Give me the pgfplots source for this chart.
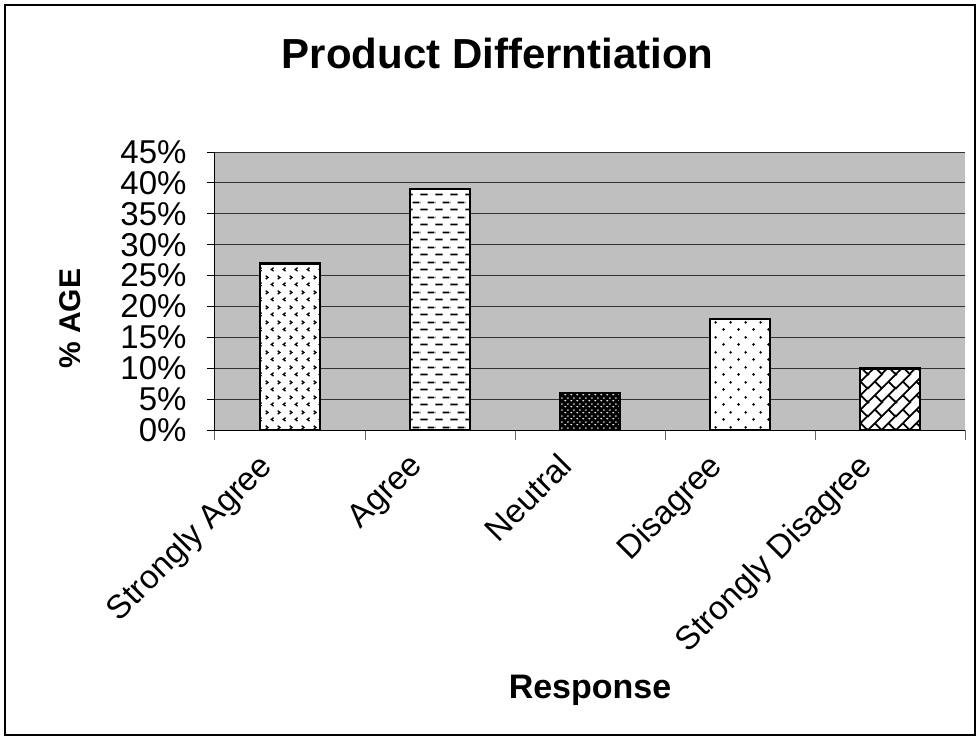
\documentclass[border=0pt]{standalone}
\usepackage{fontspec}
\setmainfont{Liberation Sans}
\usepackage{pgfplots}
\pgfplotsset{compat=1.18}
\usetikzlibrary{patterns}

% chevrons
\pgfdeclarepatternformonly{chevrons}{\pgfqpoint{0pt}{0pt}}{\pgfqpoint{12pt}{15pt}}{\pgfqpoint{12pt}{15pt}}{%
  \pgfsetlinewidth{1.4pt}
  \pgfpathmoveto{\pgfqpoint{1.8pt}{13pt}}\pgfpathlineto{\pgfqpoint{4.2pt}{11.2pt}}\pgfpathlineto{\pgfqpoint{1.8pt}{9.4pt}}
  \pgfpathmoveto{\pgfqpoint{10.2pt}{5.6pt}}\pgfpathlineto{\pgfqpoint{7.8pt}{3.8pt}}\pgfpathlineto{\pgfqpoint{10.2pt}{2pt}}
  \pgfusepath{stroke}}
% short dashes
\pgfdeclarepatternformonly{shortdashes}{\pgfqpoint{0pt}{0pt}}{\pgfqpoint{15pt}{15pt}}{\pgfqpoint{15pt}{15pt}}{%
  \pgfsetlinewidth{1.8pt}
  \pgfpathmoveto{\pgfqpoint{0.5pt}{3.75pt}}\pgfpathlineto{\pgfqpoint{8pt}{3.75pt}}
  \pgfpathmoveto{\pgfqpoint{8pt}{11.25pt}}\pgfpathlineto{\pgfqpoint{15pt}{11.25pt}}
  \pgfpathmoveto{\pgfqpoint{0pt}{11.25pt}}\pgfpathlineto{\pgfqpoint{0.5pt}{11.25pt}}
  \pgfusepath{stroke}}
% dense ovals
\pgfdeclarepatternformonly{ovals}{\pgfqpoint{0pt}{0pt}}{\pgfqpoint{6pt}{6pt}}{\pgfqpoint{6pt}{6pt}}{%
  \pgfpathellipse{\pgfqpoint{1.5pt}{1.5pt}}{\pgfqpoint{1.3pt}{0pt}}{\pgfqpoint{0pt}{0.8pt}}
  \pgfpathellipse{\pgfqpoint{4.5pt}{4.5pt}}{\pgfqpoint{1.3pt}{0pt}}{\pgfqpoint{0pt}{0.8pt}}
  \pgfusepath{fill}}
% sparse dots
\pgfdeclarepatternformonly{sparsedots}{\pgfqpoint{0pt}{0pt}}{\pgfqpoint{15pt}{15pt}}{\pgfqpoint{15pt}{15pt}}{%
  \pgfpathcircle{\pgfqpoint{3.75pt}{3.75pt}}{1.5pt}
  \pgfpathcircle{\pgfqpoint{11.25pt}{11.25pt}}{1.5pt}
  \pgfusepath{fill}}
% diagonal bricks
\pgfdeclarepatternformonly{diagbricks}{\pgfqpoint{0pt}{0pt}}{\pgfqpoint{28pt}{28pt}}{\pgfqpoint{28pt}{28pt}}{%
  \pgfsetlinewidth{1.8pt}
  \pgfpathmoveto{\pgfqpoint{-2pt}{-2pt}}\pgfpathlineto{\pgfqpoint{30pt}{30pt}}
  \pgfpathmoveto{\pgfqpoint{-2pt}{12pt}}\pgfpathlineto{\pgfqpoint{16pt}{30pt}}
  \pgfpathmoveto{\pgfqpoint{12pt}{-2pt}}\pgfpathlineto{\pgfqpoint{30pt}{16pt}}
  \pgfpathmoveto{\pgfqpoint{-2pt}{26pt}}\pgfpathlineto{\pgfqpoint{2pt}{30pt}}
  \pgfpathmoveto{\pgfqpoint{26pt}{-2pt}}\pgfpathlineto{\pgfqpoint{30pt}{2pt}}
  \pgfpathmoveto{\pgfqpoint{7pt}{7pt}}\pgfpathlineto{\pgfqpoint{14pt}{0pt}}
  \pgfpathmoveto{\pgfqpoint{21pt}{21pt}}\pgfpathlineto{\pgfqpoint{28pt}{14pt}}
  \pgfpathmoveto{\pgfqpoint{28pt}{0pt}}\pgfpathlineto{\pgfqpoint{21pt}{7pt}}
  \pgfpathmoveto{\pgfqpoint{14pt}{14pt}}\pgfpathlineto{\pgfqpoint{7pt}{21pt}}
  \pgfusepath{stroke}}

\begin{document}
\begin{tikzpicture}
\useasboundingbox (-215pt,-308pt) rectangle (764pt,430pt);
\draw[line width=2pt] (-210pt,-305pt) rectangle (760pt,425pt);
\begin{axis}[
  scale only axis, width=750pt, height=278pt,
  ybar, bar width=60pt, bar shift=0pt,
  xmin=-0.5, xmax=4.5, ymin=0, ymax=45,
  axis x line=bottom, axis y line=left, axis line style={-, black, line width=1pt},
  axis background/.style={fill=black!25},
  tick align=outside,
  xtick={0,...,4}, major x tick style={draw=none},
  xticklabels={Strongly Agree, Agree, Neutral, Disagree, Strongly Disagree},
  minor xtick={-0.5,0.5,1.5,2.5,3.5,4.5}, minor tick length=10pt,
  minor x tick style={black!60, line width=1pt},
  ytick={0,5,...,45}, major tick length=8pt,
  ytick style={black, line width=1pt},
  yticklabel={\pgfmathprintnumber{\tick}\%},
  /pgf/number format/assume math mode=true,
  ymajorgrids, major grid style={black!80, line width=0.9pt},
  ticklabel style={font=\fontsize{33}{36}\selectfont},
  yticklabel style={xshift=-17pt},
  xticklabel style={xshift=-33pt, yshift=-10pt, rotate=45, anchor=north east, inner sep=2pt},
  title={Product Differntiation},
  title style={font=\fontsize{42}{46}\selectfont\bfseries, at={(axis description cs:0.377,1.331)}, anchor=center},
  ylabel={\% AGE},
  ylabel style={font=\fontsize{30}{34}\selectfont\bfseries, at={(axis description cs:-0.193,0.40)}, anchor=center, rotate=0},
  xlabel={Response},
  xlabel style={font=\fontsize{34}{38}\selectfont\bfseries, at={(axis description cs:0.5,-0.935)}, anchor=center},
]
\addplot[draw=black, line width=2.6pt, fill=white, postaction={pattern=chevrons}] coordinates {(0,27)};
\addplot[draw=black, line width=2.6pt, fill=white, postaction={pattern=shortdashes}] coordinates {(1,39)};
\addplot[draw=black, line width=2.6pt, fill=black, postaction={pattern=ovals, pattern color=white}] coordinates {(2,6)};
\addplot[draw=black, line width=2.6pt, fill=white, postaction={pattern=sparsedots}] coordinates {(3,18)};
\addplot[draw=black, line width=2.6pt, fill=white, postaction={pattern=diagbricks}] coordinates {(4,10)};
\end{axis}
\end{tikzpicture}
\end{document}
